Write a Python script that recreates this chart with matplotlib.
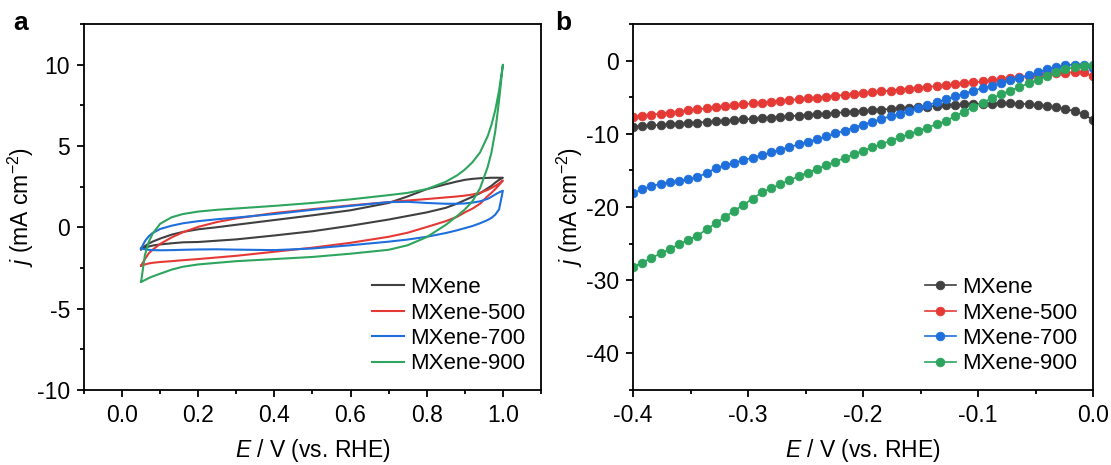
import numpy as np
import matplotlib.pyplot as plt
from matplotlib.ticker import MultipleLocator

plt.rcParams['font.family'] = ['Liberation Sans', 'DejaVu Sans']
plt.rcParams['mathtext.fontset'] = 'custom'
plt.rcParams['mathtext.rm'] = 'Liberation Sans'
plt.rcParams['mathtext.it'] = 'Liberation Sans:italic'

labels = ['MXene', 'MXene-500', 'MXene-700', 'MXene-900']
colors = ['#404040', '#e53935', '#1e6fdc', '#2ea55e']

# --- panel a: CV, forward (anodic) and reverse scans on the same potential grid
e_cv = [0.05, 0.06, 0.07, 0.08, 0.10, 0.13, 0.16, 0.20, 0.25, 0.30, 0.40, 0.50, 0.60,
        0.70, 0.75, 0.80, 0.85, 0.88, 0.90, 0.92, 0.94, 0.96, 0.97, 0.98, 0.99, 1.00]

mx_fwd = [-1.35, -1.15, -1.00, -0.88, -0.69, -0.45, -0.28, -0.12, 0.01, 0.16, 0.45, 0.74, 1.05,
          1.50, 1.90, 2.35, 2.65, 2.82, 2.92, 2.98, 3.02, 3.04, 3.05, 3.05, 3.05, 3.05]
mx_rev = [-1.35, -1.25, -1.18, -1.12, -1.05, -0.98, -0.92, -0.90, -0.82, -0.74, -0.50, -0.24, 0.10,
          0.48, 0.70, 0.92, 1.20, 1.46, 1.67, 1.88, 2.10, 2.40, 2.55, 2.75, 2.92, 3.05]

m500_fwd = [-2.35, -1.95, -1.60, -1.38, -1.02, -0.62, -0.30, 0.03, 0.33, 0.55, 0.88, 1.12, 1.35,
            1.55, 1.65, 1.74, 1.84, 1.90, 1.95, 2.02, 2.12, 2.30, 2.42, 2.55, 2.70, 2.88]
m500_rev = [-2.35, -2.28, -2.22, -2.18, -2.13, -2.08, -2.02, -1.95, -1.85, -1.75, -1.50, -1.25, -0.95,
            -0.58, -0.33, 0.02, 0.38, 0.65, 0.92, 1.15, 1.45, 1.92, 2.12, 2.35, 2.60, 2.88]

m700_fwd = [-1.30, -0.85, -0.55, -0.35, -0.10, 0.10, 0.25, 0.38, 0.50, 0.60, 0.82, 1.08, 1.32,
            1.55, 1.57, 1.50, 1.45, 1.45, 1.47, 1.52, 1.60, 1.75, 1.88, 2.02, 2.15, 2.25]
m700_rev = [-1.30, -1.35, -1.38, -1.40, -1.41, -1.40, -1.38, -1.36, -1.35, -1.37, -1.40, -1.30, -1.10,
            -0.88, -0.75, -0.58, -0.35, -0.18, -0.05, 0.08, 0.25, 0.45, 0.58, 0.78, 1.10, 2.25]

m900_fwd = [-3.35, -1.70, -0.90, -0.40, 0.22, 0.62, 0.82, 0.97, 1.08, 1.16, 1.32, 1.50, 1.72,
            1.98, 2.12, 2.35, 2.80, 3.20, 3.55, 4.00, 4.60, 5.60, 6.30, 7.20, 8.40, 10.0]
m900_rev = [-3.35, -3.24, -3.12, -3.02, -2.85, -2.60, -2.42, -2.28, -2.18, -2.08, -1.95, -1.82, -1.62,
            -1.38, -1.10, -0.60, 0.15, 0.70, 1.10, 1.60, 2.40, 3.70, 4.60, 5.90, 7.80, 10.0]

cv_fwd = [mx_fwd, m500_fwd, m700_fwd, m900_fwd]
cv_rev = [mx_rev, m500_rev, m700_rev, m900_rev]

# --- panel b: LSV
e_lsv = np.linspace(-0.4, 0.0, 51)

mx_lsv = [-9.00, -8.93, -8.86, -8.78, -8.70, -8.62, -8.54, -8.46, -8.38, -8.30,
          -8.22, -8.13, -8.04, -7.95, -7.86, -7.77, -7.68, -7.59, -7.50, -7.41,
          -7.32, -7.23, -7.14, -7.05, -6.96, -6.87, -6.78, -6.69, -6.60, -6.51,
          -6.43, -6.35, -6.27, -6.19, -6.12, -6.05, -5.99, -5.94, -5.90, -5.87,
          -5.85, -5.85, -5.88, -5.95, -6.05, -6.20, -6.40, -6.62, -6.90, -7.35, -8.10]
m500_lsv = [-7.72, -7.56, -7.40, -7.25, -7.10, -6.95, -6.80, -6.66, -6.52, -6.38,
            -6.24, -6.10, -5.97, -5.85, -5.73, -5.61, -5.49, -5.38, -5.27, -5.15,
            -5.04, -4.92, -4.80, -4.69, -4.57, -4.45, -4.33, -4.21, -4.09, -3.97,
            -3.85, -3.72, -3.60, -3.48, -3.35, -3.23, -3.10, -2.98, -2.84, -2.70,
            -2.55, -2.40, -2.25, -2.10, -1.97, -1.85, -1.75, -1.65, -1.57, -1.62, -2.15]
m700_lsv = [-18.10, -17.60, -17.10, -16.85, -16.65, -16.45, -16.20, -15.90, -15.35, -14.70,
            -14.30, -13.95, -13.60, -13.25, -12.90, -12.55, -12.15, -11.80, -11.45, -11.10,
            -10.75, -10.35, -9.95, -9.55, -9.15, -8.75, -8.35, -7.95, -7.60, -7.25,
            -6.90, -6.50, -6.10, -5.70, -5.30, -4.90, -4.50, -4.10, -3.75, -3.40,
            -3.05, -2.70, -2.35, -2.00, -1.60, -1.20, -0.85, -0.62, -0.55, -0.65, -1.05]
m900_lsv = [-28.20, -27.60, -26.95, -26.35, -25.75, -25.10, -24.50, -23.90, -23.05, -22.20,
            -21.35, -20.50, -19.70, -18.85, -18.00, -17.45, -16.90, -16.35, -15.80, -15.30,
            -14.80, -14.30, -13.80, -13.30, -12.80, -12.30, -11.85, -11.40, -10.95, -10.50,
            -10.05, -9.60, -9.15, -8.70, -8.25, -7.60, -6.95, -6.30, -5.75, -5.15,
            -4.60, -4.10, -3.60, -3.10, -2.60, -2.10, -1.60, -1.20, -0.90, -0.70, -0.60]
lsv = [mx_lsv, m500_lsv, m700_lsv, m900_lsv]

fig = plt.figure(figsize=(11.11, 4.65), dpi=100)
ax1 = fig.add_axes([0.0756, 0.1613, 0.4113, 0.787])
ax2 = fig.add_axes([0.5698, 0.1613, 0.414, 0.787])

for fwd, rev, c, lab in zip(cv_fwd, cv_rev, colors, labels):
    x = list(e_cv) + list(e_cv[::-1])
    y = list(fwd) + list(rev[::-1])
    ax1.plot(x, y, color=c, lw=1.5, label=lab)

for j, c, lab in zip(lsv, colors, labels):
    ax2.plot(e_lsv, j, color=c, lw=1.2, marker='o', ms=6.3,
             mfc=c, mec=c, mew=0.5, label=lab)

ax1.set_xlim(-0.1, 1.1)
ax1.set_ylim(-10, 12.5)
ax1.xaxis.set_minor_locator(MultipleLocator(0.1))
ax1.yaxis.set_minor_locator(MultipleLocator(2.5))
ax1.set_xticks([0.0, 0.2, 0.4, 0.6, 0.8, 1.0])
ax1.set_xticklabels(['0.0', '0.2', '0.4', '0.6', '0.8', '1.0'])
ax1.set_yticks([-10, -5, 0, 5, 10])
ax1.set_yticklabels(['-10', '-5', '0', '5', '10'])

ax2.set_xlim(-0.4, 0.0)
ax2.set_ylim(-45, 5)
ax2.xaxis.set_minor_locator(MultipleLocator(0.05))
ax2.yaxis.set_minor_locator(MultipleLocator(5))
ax2.set_xticks([-0.4, -0.3, -0.2, -0.1, 0.0])
ax2.set_xticklabels(['-0.4', '-0.3', '-0.2', '-0.1', '0.0'])
ax2.set_yticks([-40, -30, -20, -10, 0])
ax2.set_yticklabels(['-40', '-30', '-20', '-10', '0'])

for ax in (ax1, ax2):
    for s in ax.spines.values():
        s.set_linewidth(1.3)
    ax.tick_params(which='both', direction='out', top=False, right=False,
                   labelsize=16.5, width=1.3)
    ax.tick_params(which='major', length=5, pad=5)
    ax.tick_params(which='minor', length=3)
    ax.set_xlabel(r'$\mathit{E}$ / V (vs. RHE)', fontsize=16.5, labelpad=7)
    ax.set_ylabel(r'$\mathit{j}$ (mA cm$^{-2}$)', fontsize=16.5, labelpad=1)
    ax.legend(loc='lower right', frameon=False, fontsize=16, handlelength=1.4,
              handletextpad=0.3, labelspacing=0.2, borderaxespad=0.3)

fig.text(0.012, 0.935, 'a', fontsize=19, fontweight='bold')
fig.text(0.500, 0.935, 'b', fontsize=19, fontweight='bold')

fig.savefig('out.png', dpi=100)
